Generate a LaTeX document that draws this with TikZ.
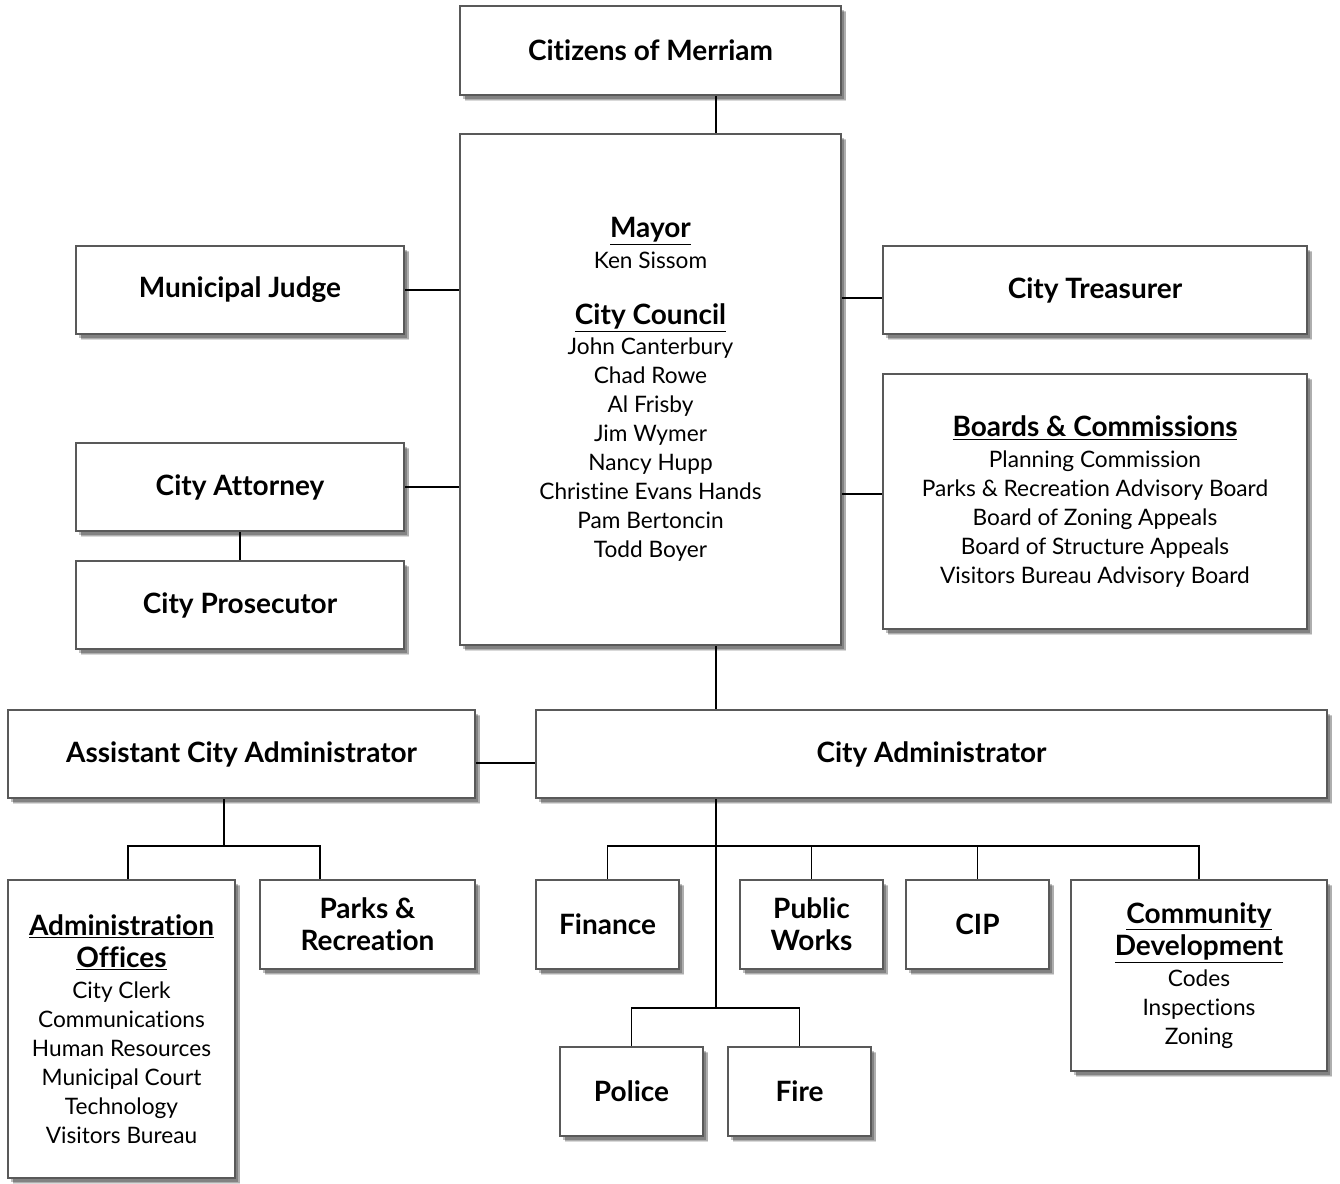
\documentclass[tikz,border=0pt]{standalone}
\usepackage{fontspec}
\setmainfont{Lato}[Ligatures={NoCommon}]
\usetikzlibrary{shadows}
\newcommand\hd[1]{{\fontsize{21}{24}\selectfont\bfseries #1}}
\newcommand\hu[1]{{\fontsize{21}{24}\selectfont\bfseries\underline{#1}}}
\newcommand\bx[6]{\node[box, minimum width={(#4-#2)*0.75pt}, minimum height={(#5-#3)*0.75pt}] (#1) at ({(#2+#4)/2},{(#3+#5)/2}) {#6};}
\tikzset{
  box/.style={draw=black!65, line width=1.6pt, fill=white, align=center, inner sep=0pt,
    font=\fontsize{17}{21.75}\selectfont,
    drop shadow={shadow xshift=4pt, shadow yshift=-4.5pt, fill=black, opacity=0.15},
    drop shadow={shadow xshift=3.5pt, shadow yshift=-4pt, fill=black, opacity=0.2},
    drop shadow={shadow xshift=2.5pt, shadow yshift=-3pt, fill=black, opacity=0.25}},
  conn/.style={draw=black, line width=1.2pt}
}
\begin{document}
\begin{tikzpicture}[x=0.75pt,y=-0.75pt]
\useasboundingbox (0,0) rectangle (1340,1183);
\bx{citizens}{460}{6}{841}{95}{\hd{Citizens of Merriam}}
\bx{mayor}{460}{134}{841}{645}{\hu{Mayor}\\[1.5pt]Ken Sissom\\[20pt]\hu{City Council}\\[0.8pt]John Canterbury\\Chad Rowe\\Al Frisby\\Jim Wymer\\Nancy Hupp\\Christine Evans Hands\\Pam Bertoncin\\Todd Boyer}
\bx{judge}{76}{246}{404}{334}{\hd{Municipal Judge}}
\bx{treasurer}{883}{246}{1307}{334}{\hd{City Treasurer}}
\bx{boards}{883}{374}{1307}{629}{\hu{Boards \& Commissions}\\[0.8pt]Planning Commission\\Parks \& Recreation Advisory Board\\Board of Zoning Appeals\\Board of Structure Appeals\\Visitors Bureau Advisory Board}
\bx{attorney}{76}{443}{404}{531}{\hd{City Attorney}}
\bx{prosecutor}{76}{561}{404}{649}{\hd{City Prosecutor}}
\bx{asst}{8}{710}{475}{798}{\hd{Assistant City Administrator}}
\bx{admin}{536}{710}{1327}{798}{\hd{City Administrator}}
\bx{offices}{8}{880}{235}{1178}{\hu{Administration}\\[2.5pt]\hu{Offices}\\[1.5pt]City Clerk\\Communications\\Human Resources\\Municipal Court\\Technology\\Visitors Bureau}
\bx{parks}{260}{880}{475}{969}{\hd{Parks \&}\\[2.5pt]\hd{Recreation}}
\bx{finance}{536}{880}{679}{969}{\hd{Finance}}
\bx{works}{740}{880}{883}{969}{\hd{Public}\\[2.5pt]\hd{Works}}
\bx{cip}{906}{880}{1049}{969}{\hd{CIP}}
\bx{comdev}{1071}{880}{1327}{1071}{\hu{Community}\\[2.5pt]\hu{Development}\\[1.5pt]Codes\\Inspections\\Zoning}
\bx{police}{560}{1047}{703}{1136}{\hd{Police}}
\bx{fire}{728}{1047}{871}{1136}{\hd{Fire}}
% helper coordinates
\coordinate (vx) at (716,0);
\coordinate (ty) at (0,298);
\coordinate (by) at (0,494);
\coordinate (ay) at (0,763);
\coordinate (ax) at (224,0);
\coordinate (lx) at (128,0);
\coordinate (rx) at (320,0);
\coordinate (bus1) at (0,846);
\coordinate (bus2) at (0,1008);
\draw[conn] (citizens.south -| vx) -- (mayor.north -| vx);
\draw[conn] (judge.east) -- (judge.east -| mayor.west);
\draw[conn] (attorney.east) -- (attorney.east -| mayor.west);
\draw[conn] (mayor.east |- ty) -- (treasurer.west |- ty);
\draw[conn] (mayor.east |- by) -- (boards.west |- by);
\draw[conn] (attorney.south) -- (prosecutor.north);
\draw[conn] (mayor.south -| vx) -- (admin.north -| vx);
\draw[conn] (asst.east |- ay) -- (admin.west |- ay);
\draw[conn] (asst.south -| ax) -- (bus1 -| ax);
\draw[conn] (offices.north -| lx) -- (bus1 -| lx) -- (bus1 -| rx) -- (parks.north -| rx);
\draw[conn] (admin.south -| vx) -- (bus2 -| vx);
\draw[conn] (finance.north) -- (bus1 -| finance.north) -- (bus1 -| comdev.north) -- (comdev.north);
\draw[conn] (works.north) -- (bus1 -| works.north);
\draw[conn] (cip.north) -- (bus1 -| cip.north);
\draw[conn] (police.north) -- (bus2 -| police.north) -- (bus2 -| fire.north) -- (fire.north);
\end{tikzpicture}
\end{document}
